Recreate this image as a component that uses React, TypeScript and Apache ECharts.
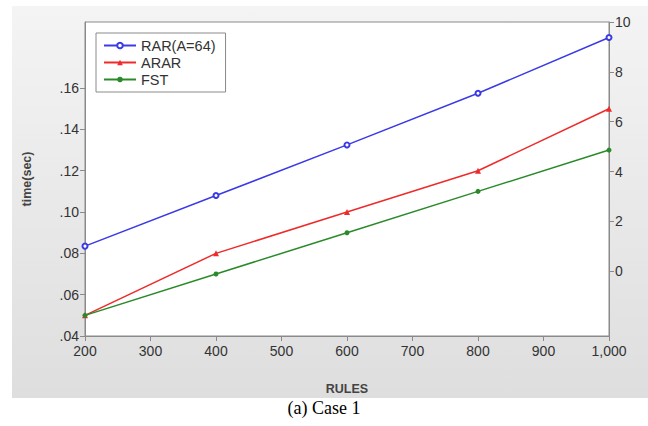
import React, { useEffect, useRef } from "react";
import * as echarts from "echarts";

const rules = [200, 400, 600, 800, 1000];
const rarValues = [0.0835, 0.108, 0.1325, 0.1575, 0.1845];
const ararValues = [0.05, 0.08, 0.1, 0.12, 0.15];
const fstValues = [0.05, 0.07, 0.09, 0.11, 0.13];
const leftTicks = [0.04, 0.06, 0.08, 0.1, 0.12, 0.14, 0.16];
const rightTicks = [0, 2, 4, 6, 8, 10];

const seriesNames = ["RAR(A=64)", "ARAR", "FST"];

export default function App() {
  const ref = useRef<HTMLDivElement>(null);
  useEffect(() => {
    if (!ref.current) return;
    const chart = echarts.init(ref.current, undefined, { renderer: "svg" });
    const font = "'Liberation Sans', Arial, sans-serif";
    const axisLine = { show: true, onZero: false, lineStyle: { color: "#8a8a8a", width: 1 } };
    const tick = { show: true, inside: false, length: 5, lineStyle: { color: "#8a8a8a" } };
    const label = { color: "#333", fontSize: 14, fontFamily: font };
    const pair = (vals: number[]) => rules.map((r, i) => [r, vals[i]]);
    chart.setOption({
      animation: false,
      graphic: [
        {
          type: "rect",
          z: -10,
          silent: true,
          shape: { x: 12, y: 6, width: 636, height: 392 },
          style: {
            fill: new echarts.graphic.LinearGradient(0, 0, 0, 1, [
              { offset: 0, color: "#f4f4f4" },
              { offset: 1, color: "#dedede" },
            ]),
          },
        },
        {
          type: "text",
          left: "center",
          top: 399,
          style: {
            text: "(a) Case 1",
            fontFamily: "'Liberation Serif', 'Times New Roman', serif",
            fontSize: 18,
            fill: "#000",
          },
        },
      ],
      grid: {
        left: 85,
        right: 39,
        top: 22,
        bottom: 90,
        show: true,
        backgroundColor: "#fff",
        borderColor: "#8a8a8a",
        borderWidth: 1,
      },
      legend: {
        orient: "vertical",
        left: 96,
        top: 33,
        backgroundColor: "#fff",
        borderColor: "#8a8a8a",
        borderWidth: 1,
        borderRadius: 0,
        padding: [5, 10, 5, 7],
        itemWidth: 32,
        itemHeight: 7,
        itemGap: 2,
        textStyle: { color: "#333", fontSize: 14.5, fontFamily: font },
        data: seriesNames,
      },
      xAxis: {
        type: "value",
        min: 200,
        max: 1000,
        interval: 100,
        name: "RULES",
        nameLocation: "middle",
        nameGap: 46,
        nameTextStyle: { color: "#444", fontSize: 12.5, fontWeight: "bold", fontFamily: font },
        axisLine,
        axisTick: tick,
        splitLine: { show: false },
        axisLabel: {
          ...label,
          margin: 8,
          formatter: (v: number) => v.toLocaleString("en-US"),
        },
      },
      yAxis: [
        {
          type: "value",
          min: 0.04,
          max: 0.192,
          interval: 0.02,
          name: "time(sec)",
          nameLocation: "middle",
          nameGap: 52,
          nameTextStyle: { color: "#444", fontSize: 12.5, fontWeight: "bold", fontFamily: font },
          axisLine,
          axisTick: { ...tick, customValues: leftTicks },
          splitLine: { show: false },
          axisLabel: {
            ...label,
            margin: 6,
            customValues: leftTicks,
            formatter: (v: number) => v.toFixed(2).replace(/^0/, ""),
          },
        },
        {
          type: "value",
          position: "right",
          min: -2.6,
          max: 10,
          axisLine,
          axisTick: { ...tick, customValues: rightTicks },
          splitLine: { show: false },
          axisLabel: { ...label, margin: 6, customValues: rightTicks },
        },
      ],
      series: [
        {
          name: seriesNames[0],
          type: "line",
          data: pair(rarValues),
          symbol: "emptyCircle",
          symbolSize: 5,
          color: "#3a3ae6",
          lineStyle: { width: 1.5 },
          itemStyle: { borderWidth: 1.2 },
        },
        {
          name: seriesNames[1],
          type: "line",
          data: pair(ararValues),
          symbol: "triangle",
          symbolSize: 6,
          color: "#ee2a2a",
          lineStyle: { width: 1.5 },
        },
        {
          name: seriesNames[2],
          type: "line",
          data: pair(fstValues),
          symbol: "circle",
          symbolSize: 5,
          color: "#2a8a2a",
          lineStyle: { width: 1.5 },
        },
      ],
    });
    return () => chart.dispose();
  }, []);
  return (
    <div
      ref={ref}
      style={{ position: "fixed", left: 0, top: 0, width: 648, height: 426, background: "#fff" }}
    />
  );
}
